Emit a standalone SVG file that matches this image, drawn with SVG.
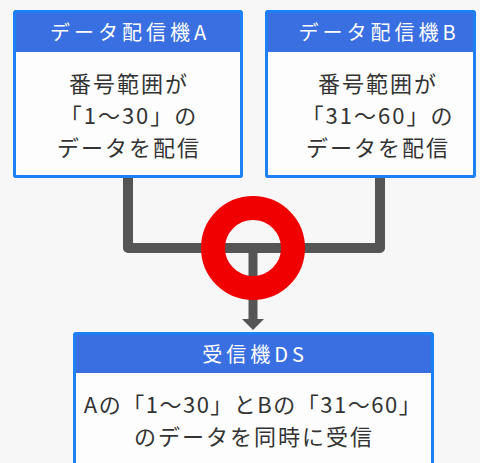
<svg xmlns="http://www.w3.org/2000/svg" width="480" height="463" viewBox="0 0 480 463">
<defs>
<style>
.box{fill:#fdfdfd;stroke:#1d80f4;stroke-width:3}
.hdr{fill:#3a6fe2}
.ht{font-family:"Noto Sans CJK JP","Noto Sans",sans-serif;font-size:20px;fill:#ffffff;text-anchor:middle;letter-spacing:4px}
.bt{font-family:"Noto Sans CJK JP","Noto Sans",sans-serif;font-size:22px;fill:#333333;text-anchor:middle;letter-spacing:2px}
.conn{fill:none;stroke:#555555;stroke-width:10;stroke-linejoin:round}
</style>
</defs>
<rect width="480" height="463" fill="#f7f7f7"/>
<g id="connectors">
<path class="conn" d="M128 178 V248 H380 V178"/>
<path d="M253 248 V320" fill="none" stroke="#555555" stroke-width="9"/>
<polygon points="242,319 264,319 253,330" fill="#555555"/>
<circle cx="253" cy="248" r="40" fill="none" stroke="#f00000" stroke-width="24"/>
</g>
<g id="nodeA">
<rect class="box" x="14.5" y="11.5" width="227" height="165" rx="2"/>
<rect class="hdr" x="16" y="13" width="224" height="39"/>
<rect x="14.5" y="11.5" width="227" height="165" rx="2" fill="none" stroke="#1d80f4" stroke-width="3"/>
<text class="ht" x="130" y="40">データ配信機A</text>
<text class="bt" x="129" y="92">番号範囲が</text>
<text class="bt" x="129" y="124">「1～30」の</text>
<text class="bt" x="129" y="156">データを配信</text>
</g>
<g id="nodeB">
<rect class="box" x="266.5" y="11.5" width="208" height="165" rx="2"/>
<rect class="hdr" x="268" y="13" width="205" height="39"/>
<rect x="266.5" y="11.5" width="208" height="165" rx="2" fill="none" stroke="#1d80f4" stroke-width="3"/>
<text class="ht" x="379" y="40">データ配信機B</text>
<text class="bt" x="378" y="92">番号範囲が</text>
<text class="bt" x="378" y="124">「31～60」の</text>
<text class="bt" x="378" y="156">データを配信</text>
</g>
<g id="nodeDS">
<rect class="box" x="74.5" y="333.5" width="358" height="140" rx="2"/>
<rect class="hdr" x="76" y="335" width="355" height="38"/>
<rect x="74.5" y="333.5" width="358" height="140" rx="2" fill="none" stroke="#1d80f4" stroke-width="3"/>
<text class="ht" x="255" y="362">受信機DS</text>
<text class="bt" x="253" y="413" style="letter-spacing:1.5px">Aの「1～30」とBの「31～60」</text>
<text class="bt" x="254" y="445">のデータを同時に受信</text>
</g>
</svg>
